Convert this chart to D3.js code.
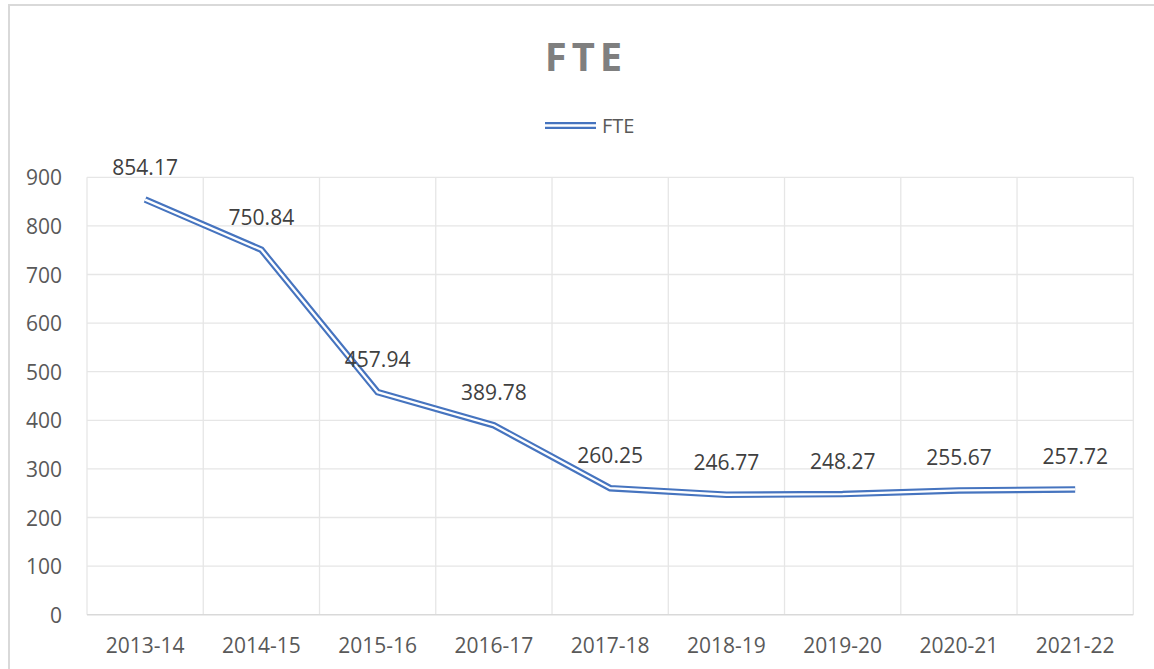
<!DOCTYPE html>
<html>
<head>
<meta charset="utf-8">
<script src="https://cdn.jsdelivr.net/npm/d3@7"></script>
<style>
  html, body { margin: 0; padding: 0; background: #fff; }
  svg { display: block; }
</style>
</head>
<body>
<svg id="chart" width="1154" height="669"></svg>
<script>
const categories = ["2013-14","2014-15","2015-16","2016-17","2017-18","2018-19","2019-20","2020-21","2021-22"];
const fteValues = [854.17, 750.84, 457.94, 389.78, 260.25, 246.77, 248.27, 255.67, 257.72];
const yTicks = [0,100,200,300,400,500,600,700,800,900];
const seriesName = "FTE";
const titleText = "FTE";

const svg = d3.select("#chart");
const W = 1154, H = 669;
const font = "'Open Sans', 'Liberation Sans', sans-serif";
const blue = "#4674bf";

// chart border
svg.append("rect").attr("x", 9).attr("y", 5).attr("width", W + 20).attr("height", H + 20)
  .attr("fill", "#fff").attr("stroke", "#d9d9d9").attr("stroke-width", 2);

const plot = {left: 87, right: 1133.3, top: 177.3, bottom: 614.7};

const x = d3.scaleBand().domain(categories).range([plot.left, plot.right]).padding(0);
const y = d3.scaleLinear().domain([0, 900]).range([plot.bottom, plot.top]);

// horizontal gridlines
svg.append("g").selectAll("line").data(yTicks.filter(d => d > 0)).join("line")
  .attr("x1", plot.left).attr("x2", plot.right)
  .attr("y1", d => y(d)).attr("y2", d => y(d))
  .attr("stroke", "#e6e6e6").attr("stroke-width", 1.3);

// vertical gridlines at category boundaries
const bounds = categories.map(c => x(c)).concat([x(categories[categories.length-1]) + x.bandwidth()]);
svg.append("g").selectAll("line").data(bounds).join("line")
  .attr("x1", d => d).attr("x2", d => d)
  .attr("y1", plot.top).attr("y2", plot.bottom)
  .attr("stroke", "#e6e6e6").attr("stroke-width", 1.3);

// bottom axis line
svg.append("line").attr("x1", plot.left).attr("x2", plot.right)
  .attr("y1", plot.bottom).attr("y2", plot.bottom)
  .attr("stroke", "#d9d9d9").attr("stroke-width", 1.5);

// y axis labels
const yAxis = d3.axisLeft(y).tickValues(yTicks).tickSize(0).tickPadding(0);
const gy = svg.append("g").attr("transform", `translate(${62},0)`).call(yAxis);
gy.select(".domain").remove();
gy.selectAll("text").attr("font-family", font).attr("font-size", 21).attr("fill", "#595959")
  .attr("dy", "0.36em").attr("x", 0);

// x axis labels
const xAxis = d3.axisBottom(x).tickSize(0).tickPadding(0);
const gx = svg.append("g").attr("transform", `translate(0,${653.3})`).call(xAxis);
gx.select(".domain").remove();
gx.selectAll("text").attr("font-family", font).attr("font-size", 21).attr("fill", "#595959")
  .attr("dy", 0).attr("y", 0);

// double (compound) line
const pts = categories.map((c, i) => [x(c) + x.bandwidth()/2, y(fteValues[i])]);
const lineGen = d3.line();
svg.append("path").attr("d", lineGen(pts)).attr("fill", "none")
  .attr("stroke", blue).attr("stroke-width", 6.6).attr("stroke-linejoin", "miter").attr("stroke-linecap", "butt");
svg.append("path").attr("d", lineGen(pts)).attr("fill", "none")
  .attr("stroke", "#fff").attr("stroke-width", 2.3).attr("stroke-linejoin", "miter").attr("stroke-linecap", "butt");

// data labels
svg.append("g").selectAll("text").data(categories).join("text")
  .attr("x", (c) => x(c) + x.bandwidth()/2)
  .attr("y", (c, i) => y(fteValues[i]) - 25)
  .attr("text-anchor", "middle")
  .attr("font-family", font).attr("font-size", 21).attr("fill", "#404040")
  .text((c, i) => fteValues[i].toFixed(2));

// title
svg.append("text").attr("x", 586).attr("y", 70.5).attr("text-anchor", "middle")
  .attr("font-family", font).attr("font-size", 40).attr("font-weight", "bold")
  .attr("fill", "#7f7f7f").attr("letter-spacing", "5px").text(titleText);

// legend
const lg = svg.append("g");
lg.append("line").attr("x1", 545).attr("x2", 596).attr("y1", 125.5).attr("y2", 125.5)
  .attr("stroke", blue).attr("stroke-width", 7.2);
lg.append("line").attr("x1", 545).attr("x2", 596).attr("y1", 125.5).attr("y2", 125.5)
  .attr("stroke", "#fff").attr("stroke-width", 2.6);
lg.append("text").attr("x", 602).attr("y", 132.7)
  .attr("font-family", font).attr("font-size", 20).attr("fill", "#595959").text(seriesName);
</script>
</body>
</html>
